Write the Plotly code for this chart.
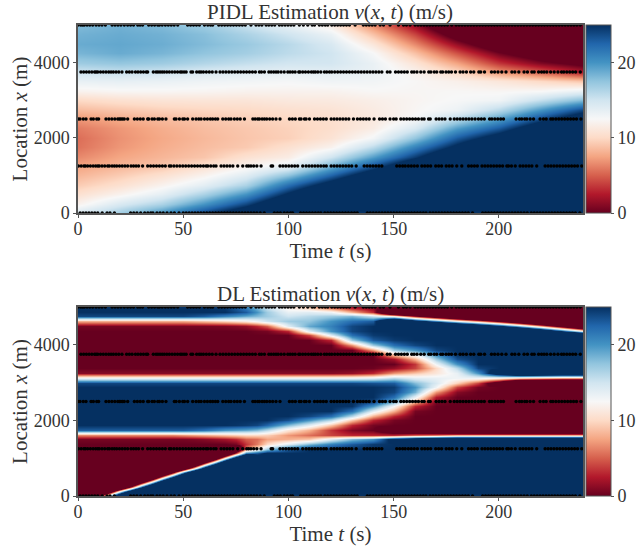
import numpy as np
import plotly.graph_objects as go

# ---------- PIDL panel: one list per time column, x = 0, 250, ... 5000 m ----------
# (values beyond the 0-25 colour range saturate, as in the reference)
pidl_times = [0, 20, 40, 60, 80, 100, 120, 140, 160, 180, 200, 220, 240]
pidl_locs = list(range(0, 5001, 250))
pidl_t000 = [14.5, 12, 10.5, 9.3, 8.3, 7.5, 6.5, 5.7, 5.5, 6, 7, 8.5, 10, 12, 13.5, 15, 17, 18.3, 18.8, 18.5, 18]
pidl_t020 = [17, 14.5, 12, 10.5, 9.3, 8.3, 7.6, 7, 6.8, 7, 7.8, 9, 10.5, 12.3, 13.6, 15.4, 17.4, 18.8, 19, 18.8, 18.5]
pidl_t040 = [20, 16.5, 13.7, 12, 10.5, 9, 8.3, 7.9, 7.7, 7.9, 8.5, 9.5, 10.8, 12.3, 13.4, 15, 17, 18.3, 18.7, 18.5, 18]
pidl_t060 = [24, 20, 16.5, 13.8, 12, 10.5, 9, 8.6, 8.4, 8.6, 9, 9.8, 10.9, 12.2, 13.1, 14.4, 16.2, 17.5, 18, 17.8, 17]
pidl_t080 = [28, 24, 20, 16.5, 14, 12, 10.6, 9.2, 9, 9.1, 9.5, 10, 10.9, 12, 12.9, 14, 15.5, 16.8, 17.2, 16.5, 15.3]
pidl_t100 = [33.5, 29.5, 25.5, 22, 17.5, 13.5, 11.5, 10.5, 9.5, 9.6, 9.9, 10.4, 11.2, 12, 12.7, 13.6, 14.9, 15.8, 16, 15, 13.5]
pidl_t120 = [39, 35, 31, 27, 22.5, 18.5, 15, 12, 10.7, 10.3, 10.4, 10.7, 11.3, 12, 13, 13.8, 14.8, 15, 14.5, 13.3, 11.5]
pidl_t140 = [44, 40, 36, 32, 27.7, 23.5, 19.5, 15.8, 12.8, 11.5, 11.2, 11.4, 11.7, 12.4, 12.9, 13.4, 13.4, 12.6, 11, 8.8, 6.5]
pidl_t160 = [49, 45, 41, 37, 33, 29, 24.5, 21, 17.5, 14.5, 12.6, 12.3, 12.2, 12.3, 12.4, 12, 10.8, 8.8, 6.5, 4, 1.5]
pidl_t180 = [54, 50, 46, 42, 38, 34, 30, 26, 23, 19.5, 16, 13.2, 12.6, 12.4, 11.8, 10, 7.5, 4.5, 1.5, -2, -5]
pidl_t200 = [59, 55, 51, 47, 43, 39, 35, 31, 27, 23, 19.5, 16, 13, 12.3, 11, 7, 3.5, 0.3, -3, -6, -9]
pidl_t220 = [64, 60, 56, 52, 48, 44, 40, 36, 32, 28, 24, 20, 15.5, 12.5, 10, 5, 0.8, -2.5, -5.5, -8.5, -11.5]
pidl_t240 = [68, 64, 60, 56, 52, 48, 44, 40, 36, 32, 28, 24, 18, 13.5, 9, 2.5, -1, -4, -7, -10, -13]
pidl_cols = [pidl_t000, pidl_t020, pidl_t040, pidl_t060, pidl_t080, pidl_t100, pidl_t120,
             pidl_t140, pidl_t160, pidl_t180, pidl_t200, pidl_t220, pidl_t240]

# ---------- DL panel: one list per time column, x = 0, 125, ... 5000 m ----------
dl_times = [0, 5, 10, 15, 20, 25, 30, 35, 40, 45, 50, 55, 60, 65, 70, 75, 80, 85, 90, 100, 110, 120,
            130, 140, 150, 160, 170, 180, 190, 200, 210, 220, 230, 240]
dl_locs = list(range(0, 5001, 125))
dl_upper = [0.5, 6.5, 23] + [25]*9 + [24, 13.5, 1] + [0]*9 + [0.5, 8, 24, 25, 25]
dl_t000 = [-37, -40] + [0]*10 + dl_upper
dl_t005 = [-18.3, -45.8] + [0]*10 + dl_upper
dl_t010 = [0.95, -26.6, -54] + [0]*9 + dl_upper
dl_t015 = [20.2, -7.3, -34.8] + [0]*9 + dl_upper
dl_t020 = [39.5, 12, -15.5, -43] + [0]*8 + dl_upper
dl_t025 = [58.7, 31.2, 3.7, -23.8, -51] + [0]*7 + dl_upper
dl_t030 = [25, 50.5, 23, -4.5, -32] + [0]*7 + dl_upper
dl_t035 = [25, 69.7, 42.2, 14.7, -12.8, -40.3] + [0]*6 + dl_upper
dl_t040 = [25, 25, 61.5, 33.9, 6.4, -21, -48.5] + [0]*5 + dl_upper
dl_t045 = [25, 25, 25, 53.2, 25.7, -1.8, -29.3, -56.8] + [0]*4 + dl_upper
dl_t050 = [25, 25, 25, 72.5, 44.9, 17.4, -10, -37.6] + [0]*4 + [0.5, 7, 23] + [25]*9 + [24, 13.5, 1] + [0]*9 + [0.5, 8, 24, 25, 25]
dl_t055 = [25]*4 + [64.2, 36.7, 9.2, -18.3, -45.8] + [0]*3 + [0.7, 7.5, 22.5] + [25]*9 + [24, 13.5, 1] + [0]*9 + [0.5, 8.5, 23.5, 25, 25]
dl_t060 = [25]*5 + [55.9, 28.4, 0.95, -26.6, -54] + [0]*2 + [1, 8, 22] + [25]*9 + [24, 13.5, 1] + [0]*9 + [0.5, 9, 23, 25, 25]
dl_t065 = [25]*5 + [75, 47.7, 20.2, -7.3, -34.8] + [0]*2 + [1.5, 8.5, 21] + [25]*9 + [24, 13.5, 1] + [0]*9 + [0.6, 9.5, 22, 25, 24.8]
dl_t070 = [25]*6 + [66.9, 39.4, 11.95, -15.5, -43, 0] + [2, 9, 20] + [25]*9 + [24, 13.5, 1] + [0]*9 + [0.7, 10, 21, 25, 24.5]
dl_t075 = [25]*7 + [58.7, 31.2, 3.7, -10, 0.5] + [3, 9.5, 19.5, 24.8] + [25]*8 + [24, 13.5, 1] + [0]*9 + [1, 10.8, 20, 24, 23]
dl_t080 = [25]*8 + [46, 21, 6, 3.5, 5, 10, 19, 24.5] + [25]*8 + [24, 13.5, 1] + [0]*9 + [1.5, 11.5, 19, 23, 21]
dl_t085 = [25]*8 + [30, 23, 11.5, 6, 5.5, 10, 18, 24] + [25]*8 + [24, 13.5, 1] + [0]*8 + [0.3, 3, 13, 18, 20, 18]
dl_t090 = [25]*9 + [26, 17, 10, 7.5, 9.5, 16, 22.5] + [25]*8 + [24, 13.5, 1] + [0]*8 + [0.5, 5, 15, 17, 17, 15]
dl_t100 = [25]*10 + [23, 14, 8, 7, 11, 18, 23.5] + [25]*7 + [24, 13.5, 1] + [0]*8 + [3, 14, 17, 15, 13.5, 11.5]
dl_t110 = [25]*10 + [25, 18, 9, 5.5, 8, 14, 20, 24] + [25]*6 + [24, 13.5, 1] + [0]*7 + [4, 14, 19, 17.5, 16, 14, 9]
dl_t120 = [25]*11 + [21, 14, 4, 3.5, 9, 16, 22] + [25]*6 + [24, 13.5, 1] + [0]*6 + [3, 14, 20, 21, 20, 17, 13, 4]
dl_t130 = [25]*11 + [23, 18, 3, 0.8, 3, 9, 16, 22, 24.8] + [25]*4 + [24, 13.5, 1.5] + [0]*5 + [7, 17, 22, 24, 24, 22, 18, 8, 1.5]
dl_t140 = [25]*11 + [24.5, 20, 3, 0, 0.5, 3, 8, 14, 20, 24] + [25]*3 + [23.5, 14, 3, 0.2] + [0]*3 + [7, 17, 23, 24.5, 25, 25, 23, 15, 3, 0.5]
dl_t150 = [25]*12 + [27, 3, -5, 0, 0.5, 3, 8, 12.5, 18, 22, 24, 24.5, 23, 16, 7, 1.5, 0, 2, 10, 17, 22, 24.5, 25, 25, 25, 38.9, 11.4, -16, 0]
dl_t160 = [25]*12 + [31, 5, -8, 0, 0, 0, 0.5, 3, 8, 13.5, 18.5, 20, 18, 14, 9, 4, 3.5, 8, 14, 20, 24, 25, 25, 25, 25, 29, 1.5, -26, 0]
dl_t170 = [25]*12 + [33, 6, -12] + [0]*5 + [0.5, 2.5, 7, 13, 14.5, 13.5, 11, 10, 13, 17, 21, 24] + [25]*4 + [48.8, 21.3, -6.2, -30, 0]
dl_t180 = [25]*12 + [36, 8, -20] + [0]*7 + [1, 4, 9.5, 13, 13.5, 16, 20, 23.5] + [25]*6 + [41, 13.6, -13.9, 0, 0]
dl_t190 = [25]*12 + [36, 8, -20] + [0]*8 + [0.5, 4, 13, 20, 24] + [25]*8 + [34.5, 7, -20.5, 0, 0]
dl_t200 = [25]*12 + [36, 8, -20] + [0]*9 + [-5, 11.5, 30] + [25]*8 + [54.3, 26.8, -0.7, -28, 0, 0]
dl_t210 = [25]*12 + [36, 8, -20] + [0]*9 + [-18, 9.2, 36.7] + [25]*8 + [45.5, 18, -9.5, -37, 0, 0]
dl_t220 = [25]*12 + [36, 8, -20] + [0]*9 + [-19, 8.1, 35.6] + [25]*8 + [35.6, 8.1, -19.4, -47, 0, 0]
dl_t230 = [25]*12 + [36, 8, -20] + [0]*9 + [-20, 7, 34.5] + [25]*7 + [52, 24.6, -2.9, -30.4, 0, 0, 0]
dl_t240 = [25]*12 + [36, 8, -20] + [0]*9 + [-20, 7, 34.5] + [25]*7 + [41.1, 13.6, -13.9, -41, 0, 0, 0]
dl_cols = [dl_t000, dl_t005, dl_t010, dl_t015, dl_t020, dl_t025, dl_t030, dl_t035, dl_t040, dl_t045, dl_t050,
           dl_t055, dl_t060, dl_t065, dl_t070, dl_t075, dl_t080, dl_t085, dl_t090, dl_t100, dl_t110, dl_t120,
           dl_t130, dl_t140, dl_t150, dl_t160, dl_t170, dl_t180, dl_t190, dl_t200, dl_t210, dl_t220, dl_t230, dl_t240]
assert all(len(c) == 41 for c in dl_cols), [(t, len(c)) for t, c in zip(dl_times, dl_cols) if len(c) != 41]
assert len(dl_cols) == len(dl_times)
assert all(len(c) == 21 for c in pidl_cols), [len(c) for c in pidl_cols]

# ---------- Loop-detector observation times per sensor location ----------
sensor_0 = [1, 2.4, 3.8, 5.2, 6.6, 8, 9.4, 11.5, 13.8, 15.2, 17.3, 25, 26.5, 28, 29.8, 31.7, 33.2, 34.6, 35.6,
            37.5, 39, 40.5, 42.3, 44.2, 45.8, 48, 50, 51.4, 52.8, 54.2, 55.6, 57, 58.4, 59.8, 61.2, 62.6, 64, 65.4,
            66.8, 68.2, 69.6, 71, 72.4, 73.8, 75.2, 76.6, 78, 79.4, 80.8, 82.2, 83.6, 85, 86.6, 88.5, 93.3, 94.8,
            96.2, 98, 99.5, 101, 102, 105.8, 107.2, 108.6, 110, 111.4, 112.8, 114.2, 115.4, 117.3, 118.7, 120.1,
            121.5, 122.9, 124.3, 125.7, 127.1, 128.5, 130, 131.4, 132.7, 137.5, 138.9, 140.3, 141.7, 143.1, 144.5,
            145.9, 147.3, 148.7, 150.1, 151.5, 152.9, 154.3, 155.7, 157.1, 158.5, 159.9, 161.3, 162.7, 164.1, 165.4,
            167.3, 168.7, 170.1, 171.5, 172.9, 174.3, 175.7, 177.1, 178.5, 179.9, 181.3, 182.7, 184.1, 185.5, 187.5,
            192.3, 193.7, 195.1, 196.5, 197.9, 199.3, 200.7, 202.1, 203.5, 204.9, 206.3, 207.7, 209.1, 210.5, 212,
            213.5, 215.4, 216.8, 218.2, 219.6, 221, 222.4, 223.8, 225.2, 226.6, 228, 229.4, 230.8, 232.2, 233.6,
            235, 236.4, 238.5]
sensor_1250 = [0.2, 1.5, 2.8, 3.5, 4.6, 5.9, 7.2, 8.4, 9.4, 10.1, 11.4, 12.7, 14.1, 14.9, 16.2, 17.3, 18.4, 19.7,
               21, 22.3, 23.6, 25.2, 26.4, 27.6, 28.8, 30.7, 33.1, 34.5, 35.9, 37.3, 38.7, 40.1, 41.5, 43.4, 44.2,
               45.6, 47, 48.4, 49.8, 51.2, 52.6, 54, 55.4, 56.8, 58.2, 59.6, 60.9, 61.7, 63.1, 64.5, 65.6, 68, 69.4,
               70.8, 72.2, 73.6, 75.9, 78.3, 80.2, 81.1, 82.2, 83.5, 85, 87, 91.8, 92.5, 96, 97.4, 98.8, 100.2, 101.6,
               103, 104.4, 106.8, 108.4, 109.8, 111.2, 112.6, 114, 115.4, 116.8, 118, 120.3, 121.7, 123.1, 124.5,
               125.9, 127.3, 128.7, 130.1, 132.2, 136, 137.4, 138.8, 140.2, 141.6, 143, 144.4, 151.5, 152.9, 154.3,
               155.5, 157, 158.4, 159.8, 161.3, 163.4, 164.8, 166.2, 167.6, 170, 171.4, 172.8, 175, 176.4, 177.8,
               180, 182.4, 185.6, 187, 188.4, 189.8, 192, 193.4, 194.8, 196.2, 197.6, 199, 200.4, 201.8, 203.8,
               204.6, 206, 207.8, 210.1, 211.5, 212.9, 214.3, 215.7, 218, 222, 223.4, 224.8, 226.2, 227.6, 229,
               230.4, 231.8, 233.2, 234.6, 236, 237.4, 239.4]
sensor_2500 = [0.1, 0.95, 2.5, 3.8, 6.2, 7.3, 8.9, 9.8, 13.3, 14.7, 16.1, 17.5, 18.9, 19.7, 20.4, 21.2, 22, 23.6,
               26.8, 28.2, 29.6, 31, 33.1, 33.6, 35.2, 36.3, 37.9, 38.7, 40.1, 41.8, 45.8, 46.6, 48.2, 49.8, 50.6,
               52.1, 54.5, 56.1, 57.4, 58.5, 60.1, 61.5, 62.9, 64, 65.3, 66.4, 68.8, 70.2, 71.6, 72.7, 74.3, 75.7,
               77.1, 79.1, 83.1, 84.2, 85.4, 86.2, 87.5, 88.6, 89.7, 91.1, 92.5, 94.1, 96, 100.5, 101.9, 103.3, 105.2,
               106, 107.6, 108.4, 110, 112.4, 113.8, 115.2, 116.6, 118, 120.3, 121.7, 123.1, 124.5, 125.9, 127.3,
               128.7, 130.9, 132.8, 134.2, 135.6, 137, 138.4, 140.7, 143.3, 144.7, 146.1, 148.3, 150, 151.2, 153.4,
               154.8, 156.2, 157.6, 159, 160.4, 161.8, 163.4, 164.5, 166.6, 167.4, 170.2, 171.6, 173, 174.4, 176.9,
               178.8, 180.2, 181.6, 183, 184.4, 185.8, 187.2, 188.7, 190.3, 191.7, 193.1, 195.6, 196.7, 198.1, 199.5,
               200.9, 202.2, 208.2, 209.8, 210.9, 212.3, 213.3, 214.9, 216.5, 219.6, 221.2, 222.5, 224.7, 225.7, 227.1,
               228.5, 229.9, 231.3, 232.7, 234.1, 235.5, 236.9, 239]
sensor_3750 = [1.4, 2.7, 4, 5.3, 6.6, 7.9, 8.6, 9.4, 10.7, 12, 13.3, 14.6, 15.7, 16.8, 18.1, 19.4, 20.9, 23.1, 24.4,
               25.7, 27.3, 28.5, 29.8, 31.1, 32.4, 33.1, 35.8, 37.1, 38, 39, 40, 41, 42.2, 43.4, 44.7, 46, 47.3, 48.6,
               49.4, 50.4, 51.4, 53.7, 54.5, 56.4, 57.6, 58.5, 59.6, 61, 62.4, 63.8, 65.6, 67.5, 68.9, 70.3, 71.7, 73.1,
               74.5, 75.9, 77.3, 78.7, 80.1, 81.5, 82.9, 84.3, 86.2, 87.2, 88.6, 90.7, 91.8, 93, 94.1, 95.1, 96.5, 98,
               99.7, 100.8, 102, 103.2, 104.9, 105.5, 106.8, 108.1, 109.5, 110.9, 111.9, 112.8, 114, 115.4, 117.1,
               118.2, 119.5, 120.6, 122, 123.4, 124.8, 126.2, 127.6, 129, 130.4, 131.8, 133.2, 134.6, 136, 137.4, 138.8,
               140.2, 141.6, 143, 144.4, 147, 148.3, 150.9, 152.3, 153.7, 155.1, 156.5, 158.6, 159.7, 161.1, 162.9,
               164.5, 166.7, 167.7, 169.3, 170.5, 172.4, 173.3, 174.9, 176.2, 177.5, 179.4, 181.6, 183, 184.6, 186.6,
               188.1, 190.5, 191.4, 193.2, 196.5, 198, 199.6, 201.4, 203.4, 206.2, 207.6, 209.5, 212, 213.6, 215.7,
               216.8, 218.9, 220.3, 221.5, 222.8, 224.6, 226.3, 228.1, 229.8, 230.9, 232.3, 233.7, 235.1, 236.5, 238.7]
sensor_5000 = [0, 1.3, 2.2, 3, 4.3, 5.6, 7, 8.6, 10, 11.4, 13, 16.2, 17.6, 19, 20.4, 22, 23.6, 25, 26.4, 28.4, 29.5,
               30.7, 33.6, 35, 36.4, 37.9, 38.7, 40, 41.5, 42.9, 44.3, 45.7, 47.4, 52.1, 53.5, 54.9, 56.3, 57.7, 60.1,
               61.7, 63, 64, 66.9, 68.3, 69.7, 71.1, 72.5, 73.9, 75.3, 76.7, 78.1, 79.5, 82.2, 84.6, 86, 87.4, 89.4,
               90.7, 92.1, 93.5, 95.7, 97, 98.4, 99.8, 101.2, 102.6, 105.2, 107.1, 109.2, 111.3, 112.4, 114.7, 116.1,
               117.5, 118.7, 120.6, 122, 123.4, 124.8, 126.2, 127.6, 129, 131.7, 135.6, 137, 138.4, 139.8, 141.2, 143.6,
               145.2, 148.3, 152.3, 154.7, 156.1, 157.8, 160.2, 161.6, 163, 164.4, 165.8, 167.2, 168.6, 170, 171.4,
               172.8, 174.2, 175.6, 177.6, 179.7, 181.1, 182.5, 183.9, 185.3, 186.7, 188.1, 189.5, 190.9, 192.3, 193.7,
               195.1, 196.5, 197.9, 199.3, 200.7, 202.1, 203.5, 204.9, 206.3, 207.7, 209.1, 210.5, 211.9, 213.3, 214.7,
               216.1, 217.5, 218.9, 220.3, 221.7, 223.1, 224.5, 225.9, 227.3, 228.7, 230.1, 231.5, 232.9, 234.3, 235.7,
               237.1, 238.7]
sensor_locs = [0, 1250, 2500, 3750, 5000]
sensor_times = [sensor_0, sensor_1250, sensor_2500, sensor_3750, sensor_5000]

titles = ["PIDL Estimation <i>v</i>(<i>x</i>, <i>t</i>) (m/s)", "DL Estimation <i>v</i>(<i>x</i>, <i>t</i>) (m/s)"]
rdbu = ["#67001f", "#b2182b", "#d6604d", "#f4a582", "#fddbc7", "#f7f7f7",
        "#d1e5f0", "#92c5de", "#4393c3", "#2166ac", "#053061"]
colorscale = [[i / 10, c] for i, c in enumerate(rdbu)]
FONT = "Liberation Serif"
W, H = 636, 546
TXT = "#333333"
AX = "#555555"
PL, PR, PT, PB = 78, 583, 25, 496
PW, PH = PR - PL, PB - PT
panels = [dict(top=25, bottom=213, xa="x", ya="y", xname="xaxis", yname="yaxis"),
          dict(top=307, bottom=496, xa="x2", ya="y2", xname="xaxis2", yname="yaxis2")]

fig = go.Figure()
layout = dict(width=W, height=H, margin=dict(l=PL, r=W - PR, t=PT, b=H - PB, autoexpand=False), showlegend=False,
              paper_bgcolor="white", plot_bgcolor="white",
              font=dict(family=FONT, size=18, color=TXT), annotations=[])
datasets = [(pidl_times, pidl_locs, pidl_cols), (dl_times, dl_locs, dl_cols)]
for p, (ts, locs, cols), ttl in zip(panels, datasets, titles):
    dom = [(PB - p["bottom"]) / PH, (PB - p["top"]) / PH]
    z = np.array(cols, dtype=float).T
    fig.add_trace(go.Heatmap(
        x=ts, y=locs, z=z, zmin=0, zmax=25, zsmooth="best", colorscale=colorscale, xaxis=p["xa"], yaxis=p["ya"],
        colorbar=dict(x=(586 - PL) / PW, xanchor="left", xpad=0, ypad=0, thickness=25, thicknessmode="pixels",
                      y=dom[0], yanchor="bottom", len=dom[1] - dom[0], lenmode="fraction",
                      tickvals=[0, 10, 20], ticks="outside", ticklen=3, tickcolor=AX, tickwidth=1,
                      tickfont=dict(family=FONT, size=18, color=TXT),
                      outlinecolor=AX, outlinewidth=1)))
    for loc, times in zip(sensor_locs, sensor_times):
        fig.add_trace(go.Scatter(x=times, y=[loc] * len(times), mode="markers", cliponaxis=False,
                                 marker=dict(color="black", size=3.4, line=dict(width=0)),
                                 xaxis=p["xa"], yaxis=p["ya"], hoverinfo="skip"))
    layout[p["xname"]] = dict(domain=[0, 1], range=[0, 240], anchor=p["ya"],
                              tickvals=[0, 50, 100, 150, 200], ticks="outside", ticklen=3, tickcolor=AX,
                              ticklabelstandoff=-4,
                              showline=True, linecolor=AX, linewidth=1.5, mirror=True, showgrid=False, zeroline=False,
                              tickfont=dict(family=FONT, size=18, color=TXT),
                              title=dict(text="Time <i>t</i> (s)", standoff=1, font=dict(family=FONT, size=21, color=TXT)))
    layout[p["yname"]] = dict(domain=dom, range=[0, 5000], anchor=p["xa"],
                              tickvals=[0, 2000, 4000], ticks="outside", ticklen=3, tickcolor=AX,
                              showline=True, linecolor=AX, linewidth=1.5, mirror=True, showgrid=False, zeroline=False,
                              tickfont=dict(family=FONT, size=18, color=TXT),
                              title=dict(text="Location <i>x</i> (m)", standoff=0, font=dict(family=FONT, size=21, color=TXT)))
    layout["annotations"].append(dict(text=ttl, xref="paper", yref="paper", x=(330 - PL) / PW, y=dom[1], xanchor="center",
                                      yanchor="bottom", yshift=-1, showarrow=False,
                                      font=dict(family=FONT, size=21, color=TXT)))
fig.update_layout(**layout)
fig.write_html("out.html", config={"displayModeBar": False},
               post_script="document.body.style.margin='0';document.documentElement.style.overflow='hidden';")
